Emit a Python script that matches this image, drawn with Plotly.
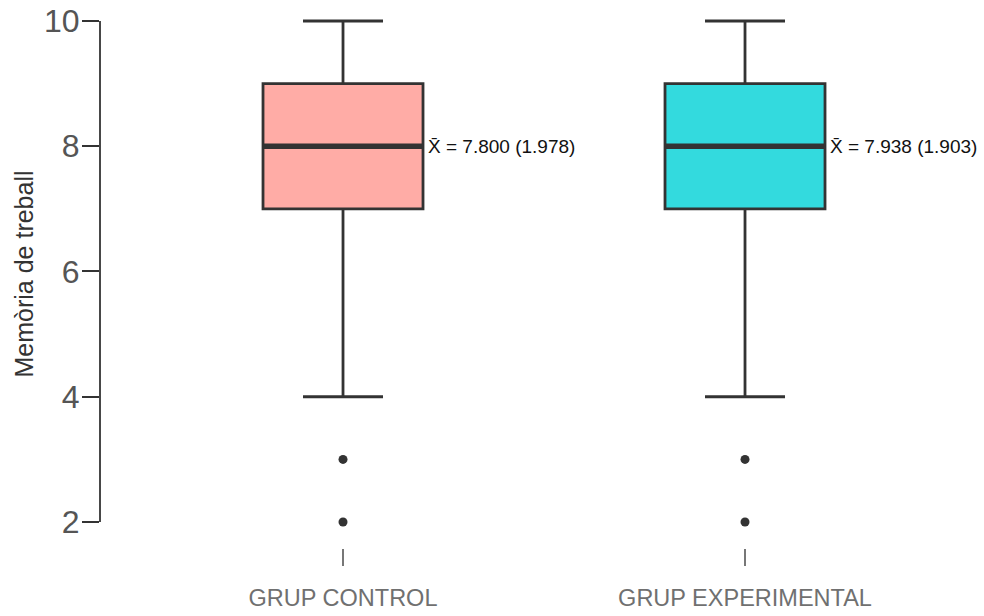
import plotly.graph_objects as go

categories = ["GRUP CONTROL", "GRUP EXPERIMENTAL"]
lower_whisker = [4, 4]
q1 = [7, 7]
medians = [8, 8]
q3 = [9, 9]
upper_whisker = [10, 10]
outliers = [[3, 2], [3, 2]]
means = [7.800, 7.938]
sds = [1.978, 1.903]
fill_colors = ["#FFACA6", "#33DADE"]

y_ticks = [2, 4, 6, 8, 10]

BOX_W = 0.398
LINE = "#333333"
FONT = "Liberation Sans, Arial, Helvetica, sans-serif"

fig = go.Figure()
for i, cat in enumerate(categories):
    fig.add_trace(go.Box(
        x=[i], q1=[q1[i]], median=[medians[i]], q3=[q3[i]],
        lowerfence=[lower_whisker[i]], upperfence=[upper_whisker[i]],
        width=BOX_W, whiskerwidth=0.5,
        fillcolor=fill_colors[i], line=dict(color=LINE, width=2.8),
        boxpoints=False, showlegend=False, hoverinfo="skip",
    ))
    # thick median line
    fig.add_trace(go.Scatter(
        x=[i - BOX_W / 2, i + BOX_W / 2], y=[medians[i], medians[i]],
        mode="lines", line=dict(color=LINE, width=5.5),
        showlegend=False, hoverinfo="skip",
    ))
    # outliers
    fig.add_trace(go.Scatter(
        x=[i] * len(outliers[i]), y=outliers[i], mode="markers",
        marker=dict(color=LINE, size=9), showlegend=False, hoverinfo="skip",
    ))
    fig.add_annotation(
        x=i + BOX_W / 2, y=medians[i], xref="x", yref="y",
        text=f"X\u0304 = {means[i]:.3f} ({sds[i]:.3f})",
        showarrow=False, xanchor="left", yanchor="middle", xshift=3,
        font=dict(family=FONT, size=19, color="#111111"),
    )

# y axis line only spanning the tick range
fig.add_shape(type="line", xref="paper", yref="y", x0=0, x1=0,
              y0=min(y_ticks), y1=max(y_ticks),
              line=dict(color=LINE, width=1.8))

fig.update_layout(
    width=984, height=616,
    margin=dict(l=100, r=0, t=0, b=68),
    plot_bgcolor="white", paper_bgcolor="white",
    font=dict(family=FONT),
    xaxis=dict(
        range=[-0.6045, 1.5945], tickvals=[0, 1], ticktext=categories,
        showgrid=False, zeroline=False, showline=False, automargin=False,
        ticks="outside", ticklen=17, tickwidth=1.6, tickcolor="#777777",
        ticklabelstandoff=12,
        tickfont=dict(family=FONT, size=23.5, color="#707070"),
    ),
    yaxis=dict(
        range=[1.585, 10.335], tickvals=y_ticks,
        showgrid=False, zeroline=False, showline=False, automargin=False,
        ticks="outside", ticklen=17, tickwidth=1.8, tickcolor=LINE,
        ticklabelstandoff=-4,
        tickfont=dict(family=FONT, size=32, color="#555555"),
        title=dict(text="Memòria de treball", standoff=3,
                   font=dict(family=FONT, size=25, color="#333333")),
    ),
)

fig.write_html("out.html",
               config={"displayModeBar": False},
               post_script="document.body.style.margin='0';document.body.style.padding='0';")
